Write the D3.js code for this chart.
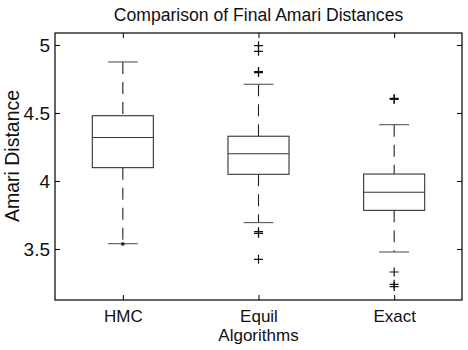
<!DOCTYPE html>
<html>
<head>
<meta charset="utf-8">
<script src="https://cdn.jsdelivr.net/npm/d3@7"></script>
<style>
  html, body { margin: 0; padding: 0; background: #fff; }
  text { font-family: "Liberation Sans", Arial, sans-serif; fill: #111; }
</style>
</head>
<body>
<svg id="chart" width="468" height="350"></svg>
<script>
const categories = ["HMC", "Equil", "Exact"];
const q1Values      = [4.098, 4.049, 3.784];
const medianValues  = [4.320, 4.200, 3.917];
const q3Values      = [4.480, 4.329, 4.051];
const lowerWhiskers = [3.539, 3.694, 3.478];
const upperWhiskers = [4.875, 4.711, 4.414];
const outliers = [
  [3.537],
  [4.995, 4.953, 4.805, 4.797, 3.627, 3.615, 3.424],
  [4.607, 4.600, 3.331, 3.240, 3.224]
];
const yTicks = [3.5, 4, 4.5, 5];
const title = "Comparison of Final Amari Distances";
const xLabel = "Algorithms";
const yLabel = "Amari Distance";

const svg = d3.select("#chart");
const margin = { left: 55, right: 6, top: 33, bottom: 50 };
const W = 468, H = 350;
const x0 = margin.left, x1 = W - margin.right, y0 = margin.top, y1 = H - margin.bottom;

const x = d3.scaleLinear().domain([0.5, categories.length + 0.5]).range([x0, x1]);
const y = d3.scaleLinear().domain([3.125, 5.088]).range([y1, y0]);

const boxHalf = 0.225, capHalf = 0.11;
const boxColor = "#333";

// axes
const tickLen = 5;
const xTickVals = categories.map((c, i) => i + 1);
const fontFam = "'Liberation Sans', Arial, sans-serif";
svg.append("g").attr("transform", `translate(0,${y1})`)
  .call(d3.axisBottom(x).tickValues(xTickVals).tickFormat((d, i) => categories[i]).tickSize(-tickLen).tickPadding(10))
  .call(g => g.select(".domain").remove())
  .call(g => g.selectAll("text").style("font-size", "17px"));
svg.append("g").attr("transform", `translate(0,${y0})`)
  .call(d3.axisTop(x).tickValues(xTickVals).tickFormat("").tickSize(-tickLen))
  .call(g => g.select(".domain").remove());
svg.append("g").attr("transform", `translate(${x0},0)`)
  .call(d3.axisLeft(y).tickValues(yTicks).tickFormat(d3.format("")).tickSize(-tickLen).tickPadding(5))
  .call(g => g.select(".domain").remove())
  .call(g => g.selectAll("text").style("font-size", "19px"));
svg.append("g").attr("transform", `translate(${x1},0)`)
  .call(d3.axisRight(y).tickValues(yTicks).tickFormat("").tickSize(-tickLen))
  .call(g => g.select(".domain").remove());
svg.selectAll(".tick text").attr("fill", "#111").style("font-family", fontFam);
svg.selectAll(".tick line").attr("stroke", "#000");

svg.append("rect").attr("x", x0).attr("y", y0).attr("width", x1 - x0).attr("height", y1 - y0)
  .attr("fill", "none").attr("stroke", "#000").attr("stroke-width", 1.2);

// boxes
const g = svg.append("g");
categories.forEach((c, i) => {
  const cx = i + 1;
  const bg = g.append("g").attr("stroke", boxColor).attr("fill", "none").attr("stroke-width", 1.1);
  // whiskers dashed
  bg.append("line").attr("x1", x(cx)).attr("x2", x(cx)).attr("y1", y(upperWhiskers[i])).attr("y2", y(q3Values[i]))
    .attr("stroke-dasharray", "12,8").attr("stroke", "#222");
  bg.append("line").attr("x1", x(cx)).attr("x2", x(cx)).attr("y1", y(q1Values[i])).attr("y2", y(lowerWhiskers[i]))
    .attr("stroke-dasharray", "12,8").attr("stroke", "#222");
  // caps
  [upperWhiskers[i], lowerWhiskers[i]].forEach(v => {
    bg.append("line").attr("x1", x(cx - capHalf)).attr("x2", x(cx + capHalf)).attr("y1", y(v)).attr("y2", y(v))
      .attr("stroke", "#555");
  });
  // box
  bg.append("rect").attr("x", x(cx - boxHalf)).attr("y", y(q3Values[i]))
    .attr("width", x(cx + boxHalf) - x(cx - boxHalf)).attr("height", y(q1Values[i]) - y(q3Values[i]));
  bg.append("line").attr("x1", x(cx - boxHalf)).attr("x2", x(cx + boxHalf))
    .attr("y1", y(medianValues[i])).attr("y2", y(medianValues[i]));
  // outliers
  outliers[i].forEach(v => {
    const px = x(cx), py = y(v);
    if (i === 0) {
      g.append("rect").attr("x", px - 1.5).attr("y", py - 1.5).attr("width", 3).attr("height", 3).attr("fill", "#111");
    } else {
      g.append("path").attr("d", `M${px - 4.5},${py}H${px + 4.5}M${px},${py - 4.5}V${py + 4.5}`)
        .attr("stroke", "#111").attr("stroke-width", 1.2).attr("fill", "none");
    }
  });
});

// labels
svg.append("text").attr("x", (x0 + x1) / 2).attr("y", 21).attr("text-anchor", "middle")
  .style("font-size", "17.6px").text(title);
svg.append("text").attr("x", (x0 + x1) / 2).attr("y", 341).attr("text-anchor", "middle")
  .style("font-size", "17px").text(xLabel);
svg.append("text").attr("transform", `translate(19,156) rotate(-90)`).attr("text-anchor", "middle")
  .style("font-size", "19.5px").text(yLabel);
</script>
</body>
</html>
